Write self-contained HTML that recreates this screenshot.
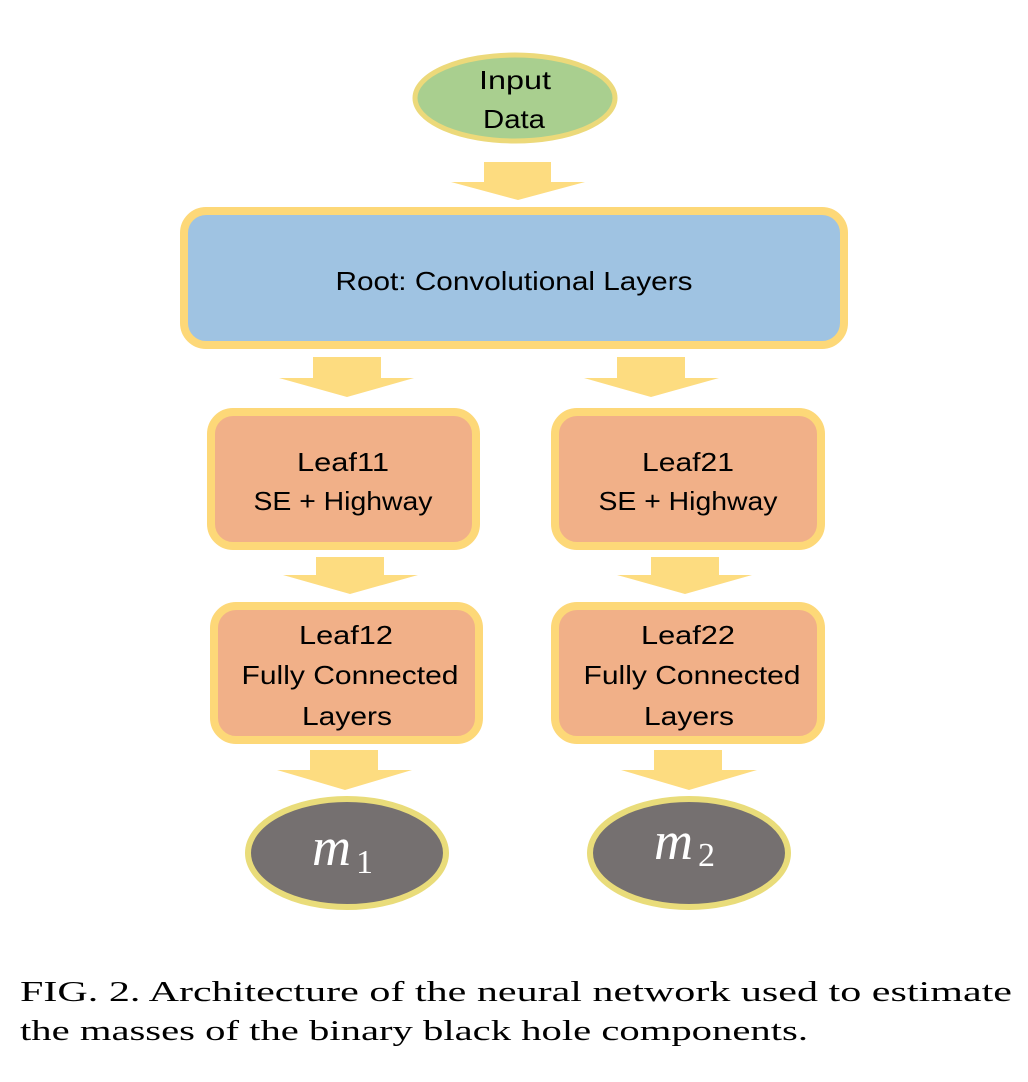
<!DOCTYPE html>
<html><head><style>body{margin:0;background:#fff}svg{display:block}</style></head><body>
<svg width="1028" height="1082" viewBox="0 0 1028 1082" xmlns="http://www.w3.org/2000/svg">
<g fill="#fddc80">
<path d="M484 162H551V182H585L518 200L451 182H484Z"/>
<path d="M313 357H381V378H414L347 397L279 378H313Z"/>
<path d="M617 357H685V378H719L651 397L584 378H617Z"/>
<path d="M316 557H384V575H418L350 594L283 575H316Z"/>
<path d="M651 557H719V575H752L685 594L617 575H651Z"/>
<path d="M310 750H378V770H412L345 790L277 770H310Z"/>
<path d="M654 750H722V770H757L689 790L621 770H654Z"/>
</g>
<ellipse cx="515" cy="98" rx="100" ry="43" fill="#a9cf8f" stroke="#ecd97a" stroke-width="5"/>
<rect x="184" y="211" width="660" height="134" rx="22" fill="#9fc3e2" stroke="#fdd878" stroke-width="8"/>
<g fill="#f1b088" stroke="#fdd878" stroke-width="8">
<rect x="211" y="412" width="265" height="134" rx="22"/>
<rect x="555" y="412" width="266" height="134" rx="22"/>
<rect x="214" y="606" width="265" height="134" rx="22"/>
<rect x="555" y="606" width="266" height="134" rx="22"/>
</g>
<ellipse cx="347" cy="853" rx="99" ry="54" fill="#757070" stroke="#e9dc7a" stroke-width="6"/>
<ellipse cx="689" cy="853" rx="99" ry="54" fill="#757070" stroke="#e9dc7a" stroke-width="6"/>
<g font-family="Liberation Sans, sans-serif" font-size="26" text-anchor="middle" fill="#000" lengthAdjust="spacingAndGlyphs">
<text x="515" y="89" textLength="72" lengthAdjust="spacingAndGlyphs">Input</text>
<text x="514" y="128" textLength="62" lengthAdjust="spacingAndGlyphs">Data</text>
<text x="514" y="290" textLength="357" lengthAdjust="spacingAndGlyphs">Root: Convolutional Layers</text>
<text x="343" y="471" textLength="92" lengthAdjust="spacingAndGlyphs">Leaf11</text>
<text x="343" y="510" textLength="179" lengthAdjust="spacingAndGlyphs">SE + Highway</text>
<text x="688" y="471" textLength="92" lengthAdjust="spacingAndGlyphs">Leaf21</text>
<text x="688" y="510" textLength="179" lengthAdjust="spacingAndGlyphs">SE + Highway</text>
<text x="346" y="644" textLength="94" lengthAdjust="spacingAndGlyphs">Leaf12</text>
<text x="350" y="684" textLength="217" lengthAdjust="spacingAndGlyphs">Fully Connected</text>
<text x="347" y="725" textLength="90" lengthAdjust="spacingAndGlyphs">Layers</text>
<text x="688" y="644" textLength="94" lengthAdjust="spacingAndGlyphs">Leaf22</text>
<text x="692" y="684" textLength="217" lengthAdjust="spacingAndGlyphs">Fully Connected</text>
<text x="689" y="725" textLength="90" lengthAdjust="spacingAndGlyphs">Layers</text>
</g>
<g font-family="Liberation Serif, serif" fill="#fff" font-style="italic">
<text x="312" y="865" font-size="54">m</text><text x="356" y="873" font-size="34" font-style="normal">1</text>
<text x="654" y="859" font-size="54">m</text><text x="698" y="866" font-size="34" font-style="normal">2</text>
</g>
<g font-family="Liberation Serif, serif" font-size="29" fill="#000">
<text x="20" y="1001" textLength="992" lengthAdjust="spacingAndGlyphs">FIG. 2. Architecture of the neural network used to estimate</text>
<text x="20" y="1040" textLength="788" lengthAdjust="spacingAndGlyphs">the masses of the binary black hole components.</text>
</g>
</svg>
</body></html>
